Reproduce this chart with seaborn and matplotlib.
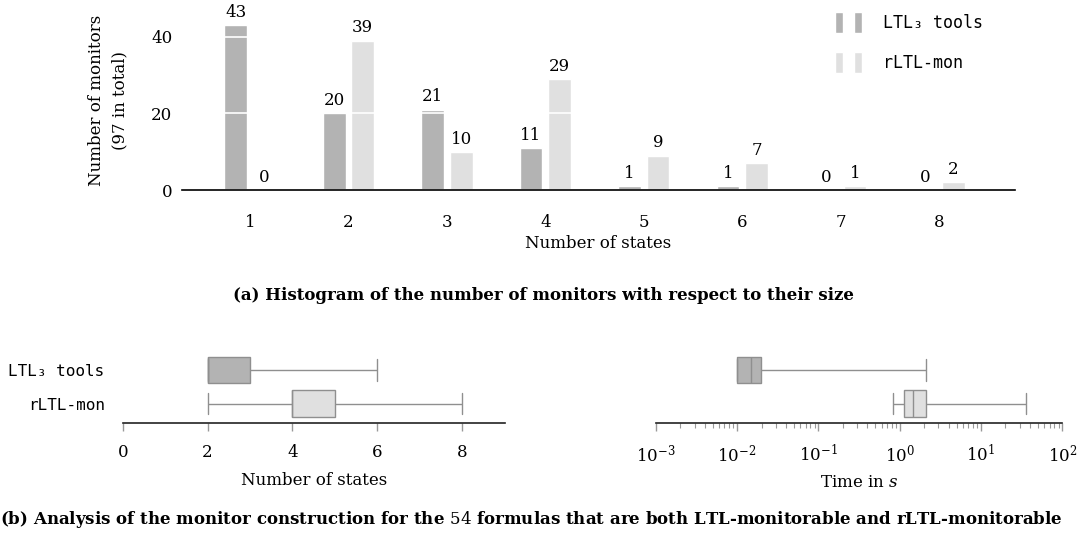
import numpy as np
import pandas as pd
import matplotlib
matplotlib.use("Agg")
import matplotlib.pyplot as plt
from matplotlib.patches import Patch
from matplotlib.legend_handler import HandlerTuple
import seaborn as sns

# dati
states = [1, 2, 3, 4, 5, 6, 7, 8]
ltl3_counts = [43, 20, 21, 11, 1, 1, 0, 0]
rltl_counts = [0, 39, 10, 29, 9, 7, 1, 2]
tools = ["LTL₃ tools", "rLTL-mon"]

# numero di stati per le 54 formule (valore -> frequenza)
ltl3_state_vals = [2, 3, 4, 5, 6]
ltl3_state_freq = [30, 14, 7, 2, 1]
rltl_state_vals = [2, 3, 4, 5, 6, 7, 8]
rltl_state_freq = [3, 8, 20, 15, 5, 2, 1]

# tempi di costruzione (s)
ltl3_times = [0.0099, 0.0099, 0.0149, 0.0199, 2.11]
rltl_times = [0.82, 1.12, 1.46, 2.11, 35.5]

colors = ["#b3b3b3", "#e0e0e0"]
MONO = "DejaVu Sans Mono"
SERIF = "DejaVu Serif"
FS = 12

sns.set_theme(style="white")
plt.rcParams["font.family"] = SERIF
plt.rcParams["mathtext.fontset"] = "custom"
plt.rcParams["mathtext.rm"] = SERIF
plt.rcParams["mathtext.it"] = SERIF + ":italic"
plt.rcParams["mathtext.bf"] = SERIF + ":bold"
for k in ["text.color", "axes.labelcolor", "xtick.labelcolor", "ytick.labelcolor"]:
    plt.rcParams[k] = "black"

fig = plt.figure(figsize=(10.86, 5.36), dpi=100)

# (a) istogramma
df_hist = pd.DataFrame({
    "states": states * 2,
    "count": ltl3_counts + rltl_counts,
    "tool": [tools[0]] * len(states) + [tools[1]] * len(states),
})
ax1 = fig.add_axes([0.1676, 0.6455, 0.7670, 0.3358])
sns.barplot(data=df_hist, x="states", y="count", hue="tool", hue_order=tools,
            palette=colors, width=0.58, gap=0.2, saturation=1, legend=False, ax=ax1)
for cont in ax1.containers:
    ax1.bar_label(cont, padding=3, fontsize=FS)
ax1.set_ylim(0, 47)
ax1.set_xlim(-0.69, 7.77)
ax1.set_yticks([0, 20, 40])
ax1.yaxis.grid(True, color="white", linewidth=1.2)
ax1.set_axisbelow(False)
for s in ["left", "top", "right"]:
    ax1.spines[s].set_visible(False)
ax1.spines["bottom"].set_color("black")
ax1.spines["bottom"].set_linewidth(1.2)
ax1.spines["bottom"].set_zorder(5)
ax1.tick_params(axis="both", length=0, labelsize=FS)
ax1.tick_params(axis="x", pad=17)
ax1.tick_params(axis="y", pad=7)
ax1.set_xlabel("Number of states", fontsize=FS, labelpad=3)
ax1.set_ylabel("Number of monitors\n(97 in total)", fontsize=FS, labelpad=16, linespacing=1.5)

handles = [(Patch(fc=colors[0]), Patch(fc=colors[0])),
           (Patch(fc=colors[1]), Patch(fc=colors[1]))]
leg = fig.legend(handles, tools, handler_map={tuple: HandlerTuple(ndivide=None, pad=0.66)},
                 loc="upper left", bbox_to_anchor=(0.7689, 0.9775), frameon=False,
                 borderpad=0, borderaxespad=0, handlelength=1.6, handleheight=1.6,
                 handletextpad=1.25, labelspacing=1.1, prop={"family": MONO, "size": 12})

fig.text(0.5, 0.4496, "(a) Histogram of the number of monitors with respect to their size",
         ha="center", va="center", fontsize=FS, fontweight="bold")

# (b) boxplot numero di stati
df_states = pd.DataFrame({
    "tool": [tools[0]] * sum(ltl3_state_freq) + [tools[1]] * sum(rltl_state_freq),
    "states": list(np.repeat(ltl3_state_vals, ltl3_state_freq)) + list(np.repeat(rltl_state_vals, rltl_state_freq)),
})
ax2 = fig.add_axes([0.1130, 0.2108, 0.3517, 0.1427])
sns.boxplot(data=df_states, x="states", y="tool", hue="tool", order=tools, hue_order=tools,
            palette=colors, whis=(0, 100), width=0.8, linewidth=1, linecolor="#8f8f8f",
            saturation=1, legend=False, capwidths=0.65, ax=ax2)
ax2.set_xlim(0, 9)
ax2.set_ylim(1.58, -0.7)
ax2.set_xticks([0, 2, 4, 6, 8])
ax2.set_xlabel("Number of states", fontsize=FS, labelpad=8)
ax2.set_ylabel("")

# (b) boxplot tempi
df_times = pd.DataFrame({
    "tool": [tools[0]] * len(ltl3_times) + [tools[1]] * len(rltl_times),
    "time": ltl3_times + rltl_times,
})
ax3 = fig.add_axes([0.6038, 0.2108, 0.3744, 0.1427])
sns.boxplot(data=df_times, x="time", y="tool", hue="tool", order=tools, hue_order=tools,
            palette=colors, whis=(0, 100), width=0.8, linewidth=1, linecolor="#8f8f8f",
            saturation=1, legend=False, log_scale=True, capwidths=0.65, ax=ax3)
ax3.set_xlim(1e-3, 1e2)
ax3.set_ylim(1.58, -0.7)
ax3.set_xlabel("Time in $s$", fontsize=FS, labelpad=6)
ax3.set_ylabel("")
ax3.set_yticks([])

for ax in [ax2, ax3]:
    for s in ["left", "top", "right"]:
        ax.spines[s].set_visible(False)
    ax.spines["bottom"].set_color("#222222")
    ax.spines["bottom"].set_linewidth(1.2)
    ax.tick_params(axis="x", which="major", bottom=True, length=6, width=1,
                   color="#999999", labelsize=FS, pad=9)
    ax.tick_params(axis="x", which="minor", bottom=True, length=3.5, width=0.8, color="#999999")
    ax.tick_params(axis="y", length=0, pad=13)
for lab in ax2.get_yticklabels():
    lab.set_fontfamily(MONO)
    lab.set_fontsize(11.5)

fig.text(0.0, 0.0299, "(b) Analysis of the monitor construction for the $54$ formulas "
         "that are both LTL-monitorable and rLTL-monitorable",
         ha="left", va="center", fontsize=FS, fontweight="bold")

fig.savefig("out.png", dpi=100)
